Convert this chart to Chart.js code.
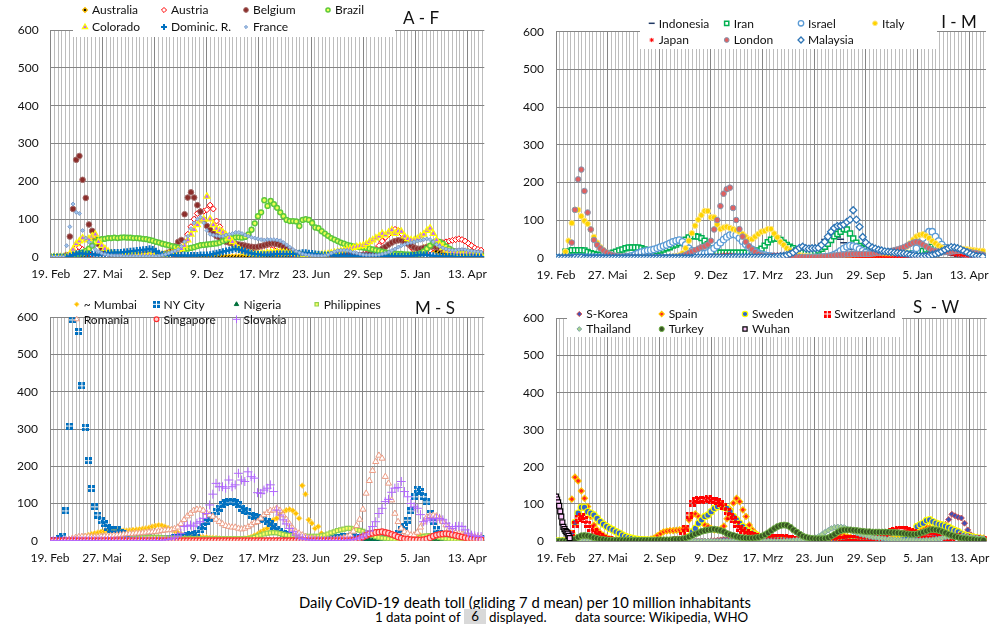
<!DOCTYPE html>
<html>
<head>
<meta charset="utf-8">
<script src="https://cdn.jsdelivr.net/npm/chart.js@4.4.1/dist/chart.umd.min.js"></script>
<style>
  body { margin: 0; background: #fff; width: 1001px; height: 640px; position: relative; overflow: hidden; font-family: Lato, sans-serif; }
  canvas { position: absolute; }
  #c1 { left: 0; top: 0; }
  #c2 { left: 500px; top: 0; }
  #c3 { left: 0; top: 290px; }
  #c4 { left: 500px; top: 290px; }
  .txt { position: absolute; color: #000; white-space: nowrap; line-height: 16px; }
  .l1 { font-size: 14.8px; }
  .l2 { font-size: 13.3px; }
  .box { background: #d9d9d9; text-align: center; width: 22px; height: 15px; line-height: 15px; }
</style>
</head>
<body>
<canvas id="c1" width="500" height="290"></canvas>
<canvas id="c2" width="501" height="290"></canvas>
<canvas id="c3" width="500" height="290"></canvas>
<canvas id="c4" width="501" height="290"></canvas>

<div class="txt l1" style="left:299px;top:594px">Daily CoViD-19 death toll (gliding 7 d mean) per 10 million inhabitants</div>
<div class="txt l2" style="left:375px;top:609px">1 data point of</div>
<div class="txt l2 box" style="left:464px;top:609px">6</div>
<div class="txt l2" style="left:489px;top:609px">displayed.</div>
<div class="txt l2" style="left:575px;top:609px">data source: Wikipedia, WHO</div>

<script>
// one value every 6 days, starting 19 Feb 2020 (day 0)
const STEP = 6;
const dateLabels = ['19. Feb', '27. Mai', '2. Sep', '9. Dez', '17. Mrz', '23. Jun', '29. Sep', '5. Jan', '13. Apr'];

// ---- A - F ----
const australia = [
0,0,0,0,0,0,0,1,1,1, 0,0,0,0,0,0,0,0,0,0, 0,0,0,0,0,0,0,1,2,3, 4,4,4,3,2,1,0,0,0,0,
0,0,0,0,0,0,0,0,0,0, 0,0,0,0,0,0,0,0,0,0, 0,0,0,0,0,0,0,0,0,0, 0,0,0,0,0,0,0,0,0,0,
0,0,0,0,0,0,0,0,0,0, 0,0,0,0,0,0,0,0,0,1, 1,1,1,1,1,1,1,1,1,1, 1,2,3,5,10,15,20,25,27,24,
20,15,12,10,9,9,10,11,12,13, 14,14,14,14,13,13];
const austria = [
0,0,0,0,0,1,5,15,24,26, 20,14,8,5,3,2,1,1,1,1, 1,1,1,1,1,1,1,1,1,1, 1,1,1,1,1,1,1,2,3,5,
10,20,40,60,80,100,115,120,121,125, 137,127,95,80,65,55,45,35,30,25, 20,18,18,20,22,25,28,30,32,32, 30,26,22,17,13,9,6,4,3,2,
1,1,1,1,1,1,1,1,1,1, 1,1,2,2,3,3,4,5,6,8, 10,14,20,30,42,52,60,70,73,70, 62,48,36,26,19,14,12,12,14,18,
24,30,34,38,40,42,44,46,48,46, 42,36,30,24,20,18];
const belgium = [
0,0,0,0,0,5,54,127,257,267, 204,156,86,69,48,34,24,16,10,7, 5,4,3,3,3,3,4,5,6,7, 8,7,6,6,6,7,9,12,18,28,
40,45,113,157,171,157,137,120,98,82, 72,62,55,50,45,40,38,36,35,33, 32,30,28,27,26,27,29,31,34,36, 36,34,31,27,22,18,14,11,8,6,
4,3,2,2,2,2,2,3,3,4, 4,5,5,5,5,5,5,5,6,6, 8,10,13,17,22,27,33,38,42,44, 44,40,35,30,25,22,22,24,26,28,
28,26,24,20,17,15,14,14,15,15, 14,13,12,11,10,9];
const brazil = [
0,0,0,0,0,0,1,2,5,8, 12,16,22,30,40,45,47,48,50,50, 51,50,51,52,51,51,50,50,49,48, 47,45,43,40,38,35,33,31,29,27,
25,23,22,22,24,26,29,31,32,33, 34,35,36,38,42,45,48,50,52,52, 51,53,60,72,89,108,118,150,135,148, 140,130,118,108,98,95,95,94,82,98,
100,98,90,78,76,68,62,56,50,46, 42,38,35,32,30,28,27,26,25,24, 22,20,18,16,14,12,11,10,9,8, 8,7,7,6,6,7,10,15,22,30,
38,42,40,35,28,22,17,13,10,8, 6,5,5,4,4,4];
const colorado = [
0,0,0,0,0,1,8,20,35,42, 50,45,48,55,60,40,30,22,15,10, 8,8,7,7,6,6,6,5,5,5, 5,5,5,5,6,6,7,8,10,14,
18,22,30,45,60,72,85,95,100,160, 100,85,75,70,65,58,50,40,30,22, 16,12,10,9,8,8,8,9,10,12, 12,13,13,12,11,10,9,8,7,6,
6,6,5,5,5,6,7,8,10,12, 14,16,18,20,22,25,27,29,30,35, 40,45,50,55,62,58,65,71,62,68, 67,55,48,45,45,48,55,60,70,76,
62,45,32,24,18,15,12,10,9,8, 10,12,8,6,5,5];
const dominican = [
0,0,0,0,0,0,2,5,8,10, 9,8,7,7,6,6,7,8,10,11, 12,12,12,13,14,15,16,17,18,19, 20,22,20,15,10,7,6,5,5,4,
4,4,4,4,4,4,4,5,5,5, 6,8,10,12,14,16,18,20,22,20, 18,15,12,10,8,7,6,6,6,6, 7,8,8,8,8,8,8,9,10,11,
11,10,9,8,7,6,5,5,5,4, 4,3,3,3,3,3,2,2,2,2, 2,2,2,2,2,2,2,2,2,2, 2,2,2,3,4,5,6,6,5,4,
3,2,2,1,1,1,1,0,0,0, 0,0,0,0,0,0];
const france = [
0,0,0,0,0,30,80,140,118,115, 70,50,40,30,20,14,10,7,5,4, 3,3,3,2,2,2,2,2,2,2, 2,2,2,2,3,5,7,10,13,16,
20,28,40,55,75,90,100,105,90,70, 60,58,56,55,55,58,60,62,65,65, 62,58,55,52,50,48,46,45,46,46, 46,45,43,38,32,26,20,15,11,8,
6,5,4,3,3,3,4,6,10,14, 17,18,18,17,15,12,10,8,6,5, 5,5,5,6,8,10,13,17,21,26, 30,33,36,38,40,42,44,46,48,46,
40,33,28,24,21,19,18,18,19,20, 19,17,16,15,14,13];

// ---- I - M ----
const indonesia = [
0,0,0,0,0,0,0,1,1,1, 1,1,1,1,1,1,1,1,1,1, 1,2,2,2,2,2,2,2,2,2, 2,2,2,2,2,2,3,3,3,3,
3,3,3,3,3,3,4,4,4,4, 4,5,6,7,8,9,10,11,11,10, 9,8,7,6,6,5,5,5,5,5, 5,5,5,5,5,5,6,6,7,8,
10,14,20,28,38,48,56,62,60,55, 49,40,30,22,15,10,7,5,3,2, 1,1,1,1,1,1,1,1,1,1, 1,1,1,1,1,1,1,1,2,4,
6,8,10,10,9,8,6,4,3,2, 1,1,1,1,1,1];
const iran = [
0,0,0,16,16,20,20,20,20,19, 15,12,10,8,7,8,10,11,13,16, 19,22,25,27,27,27,27,25,22,19, 17,16,17,19,22,25,28,32,35,39,
42,48,54,57,57,56,52,45,36,25, 16,14,13,13,13,13,13,13,13,13, 13,14,15,17,19,24,32,41,48,51, 51,47,40,34,29,25,20,16,14,13,
13,13,15,19,24,29,37,47,57,63, 69,76,75,64,51,40,31,26,23,21, 20,18,16,14,13,12,11,11,10,10, 10,10,10,11,13,15,18,22,26,29,
31,29,25,21,19,17,16,14,12,10, 9,8,7,6,5,5];
const israel = [
0,0,0,0,0,0,0,0,1,1, 1,1,1,1,1,1,1,1,1,1, 1,1,2,3,5,8,12,15,17,19, 20,22,25,28,31,34,38,42,45,47,
42,34,25,18,14,12,11,11,13,18, 25,32,40,48,55,60,62,60,52,44, 36,28,22,16,12,9,7,5,4,3, 2,2,1,1,1,1,1,0,0,0,
0,0,1,1,1,2,3,5,8,12, 18,24,29,32,31,28,23,18,14,10, 8,6,5,4,3,3,3,3,3,2, 2,2,4,10,25,40,52,62,69,69,
56,44,35,27,22,19,16,13,11,9, 7,6,5,4,3,3];
const italy = [
0,0,1,16,45,92,127,127,110,98, 90,75,55,40,28,20,14,10,7,5, 4,3,2,2,1,1,1,1,1,1, 1,1,1,1,1,2,2,3,4,6,
12,25,45,65,85,101,113,124,124,107, 107,88,76,80,82,79,76,73,69,63, 56,49,49,56,63,69,71,76,76,64, 54,42,34,25,19,13,10,7,5,4,
3,2,1,1,1,1,1,1,2,2, 3,3,4,4,4,4,4,3,3,3, 3,3,4,5,6,8,10,13,16,20, 24,30,38,48,56,60,62,58,52,44,
38,32,27,24,22,22,23,24,24,23, 22,21,20,19,18,18];
const japan = [
0,0,0,0,0,0,0,0,1,1, 1,1,1,1,1,1,0,0,0,0, 0,0,0,0,0,0,0,0,0,0, 0,0,0,0,0,0,0,0,0,0,
0,0,0,0,0,1,2,2,3,3, 4,5,6,7,7,7,6,5,4,3, 3,2,2,2,2,3,4,5,6,7, 8,8,8,7,6,5,4,3,2,2,
1,1,1,1,2,2,3,3,4,4, 4,4,3,3,2,2,1,1,0,0, 0,0,0,0,0,0,0,0,0,0, 0,0,0,0,0,1,3,6,10,14,
17,18,18,16,13,11,9,8,7,6, 5,4,4,3,3,3];
const london = [
0,0,0,0,1,40,127,208,234,177, 120,75,47,34,25,19,14,10,7,5, 4,3,3,2,2,2,2,1,1,1, 1,1,1,1,1,1,2,2,2,3,
5,8,12,16,20,24,28,30,35,45, 75,100,137,170,182,186,132,100,76,56, 42,30,22,15,10,7,5,4,3,3, 3,3,3,2,2,2,2,2,2,2,
2,2,2,2,3,3,4,5,6,7, 8,8,9,9,10,10,10,10,10,10, 11,12,13,14,15,16,18,20,22,25, 28,32,36,40,42,40,35,30,25,20,
18,16,15,15,15,16,17,18,19,18, 17,15,13,12,10,8];
const malaysia = [
0,0,0,0,0,0,1,1,1,0, 0,0,0,0,0,0,0,0,0,0, 0,0,0,0,0,0,0,0,0,0, 0,0,0,0,0,0,0,0,0,0,
0,0,0,0,1,1,1,1,1,1, 1,1,1,1,1,2,2,2,2,2, 2,2,1,1,1,1,1,1,1,2, 3,4,5,7,10,14,20,26,29,25,
24,25,25,26,34,42,56,69,79,84, 85,88,95,101,126,101,82,55,40,32, 27,24,21,19,17,16,15,14,13,12, 11,10,8,6,5,4,4,5,6,8,
10,13,17,21,25,28,27,25,22,18, 14,10,7,5,4,3];

// ---- M - S ----
const mumbai = [
0,0,0,0,0,0,1,2,4,6, 9,12,15,18,20,22,24,25,26,26, 27,28,28,27,27,28,29,30,31,32, 33,35,38,40,42,41,38,34,30,26,
22,18,15,13,12,11,10,10,9,9, 8,8,7,6,5,4,4,4,4,4, 5,6,8,10,14,18,24,29,33,45, 56,60,70,76,82,84,81,73,60,148,
125,56,47,33,38,20,12,9,7,6, 5,4,3,3,3,3,3,2,2,2, 2,2,2,2,2,2,2,2,2,2, 2,2,2,4,8,12,14,13,10,7,
5,4,3,2,1,1,1,1,1,1, 1,1,1,1,1,1];
const nyc = [
0,0,0,5,12,80,308,593,900,562, 416,304,215,140,91,69,54,45,35,29, 29,29,22,18,15,13,12,11,10,10, 9,8,7,6,6,6,6,6,7,8,
9,10,12,14,16,15,20,29,38,51, 60,69,78,87,96,102,104,104,102,96, 87,82,78,69,65,63,60,56,51,45, 38,30,24,18,16,15,12,10,8,6,
5,4,3,3,3,3,4,5,6,7, 8,9,10,10,10,10,9,9,8,8, 7,7,6,6,6,7,8,10,14,20, 29,38,55,80,118,138,132,118,104,73,
51,29,18,12,8,6,5,4,4,4, 4,4,5,5,5,5];
const nigeria = [
0,0,0,0,0,0,0,0,0,0, 0,0,0,0,0,0,1,1,1,1, 1,1,1,1,1,1,0,0,0,0, 0,0,0,0,0,0,0,0,0,0,
0,0,0,0,0,0,0,0,0,0, 0,0,0,1,1,1,1,1,0,0, 0,0,0,0,0,0,0,0,0,0, 0,0,0,0,0,0,0,0,0,0,
0,0,0,0,0,0,0,0,0,1, 1,1,1,0,0,0,0,0,0,0, 0,0,0,0,0,0,0,0,0,0, 0,0,0,0,0,0,0,0,0,0,
0,0,0,0,0,0,0,0,0,0, 0,0,0,0,0,0];
const philippines = [
0,0,0,0,0,0,1,2,2,2, 2,2,1,1,1,1,1,1,1,1, 2,2,2,3,3,4,5,6,7,8, 8,9,9,9,9,8,8,7,7,6,
6,5,5,5,5,5,5,5,5,5, 5,5,5,5,5,5,5,5,5,5, 5,5,6,7,9,12,15,18,20,21, 22,21,19,17,15,14,14,14,13,12,
12,12,12,12,12,13,15,18,21,24, 27,29,31,33,33,32,30,28,25,22, 18,14,11,9,7,6,5,4,3,2, 2,2,2,2,3,5,8,11,13,14,
13,11,9,7,5,4,3,3,2,2, 2,2,1,1,1,1];
const romania = [
0,0,0,0,0,1,3,6,8,10, 11,11,11,10,10,10,11,12,12,13, 14,15,16,17,18,19,19,20,20,21, 22,23,23,24,25,27,28,29,29,32,
36,45,56,66,73,81,84,84,81,75, 69,65,57,51,45,40,38,36,36,33, 31,33,37,42,48,51,60,69,75,81, 82,87,81,69,57,45,33,24,20,15,
11,8,6,5,4,3,3,3,3,4, 5,6,8,11,15,25,40,57,84,127, 161,188,212,229,221,172,154,109,73,51, 33,24,20,15,15,22,36,50,63,67,
68,66,60,51,42,33,26,22,19,17, 15,14,12,11,10,9];
const singapore = [
0,0,0,0,0,0,0,0,0,0, 0,0,0,0,0,0,0,0,0,0, 0,0,0,0,0,0,0,0,0,0, 0,0,0,0,0,0,0,0,0,0,
0,0,0,0,0,0,0,0,0,0, 0,0,0,0,0,0,0,0,0,0, 0,0,0,0,0,0,0,0,0,0, 0,0,0,0,0,0,0,0,0,0,
0,0,0,0,0,0,0,0,0,0, 0,0,0,0,0,1,3,6,10,14, 18,20,22,23,24,22,20,17,14,10, 7,5,4,3,2,2,2,3,5,8,
12,15,17,18,19,18,16,14,12,10, 8,6,5,4,3,3];
const slovakia = [
0,0,0,0,0,0,0,0,0,0, 0,0,0,0,0,0,0,0,0,0, 0,0,0,0,0,0,0,0,0,0, 0,0,0,0,0,0,2,3,5,8,
13,20,38,40,42,39,47,51,60,73, 96,125,154,145,145,141,163,145,150,181, 163,159,185,172,168,129,127,136,141,150, 132,82,69,56,45,33,24,15,10,6,
4,2,1,1,0,0,0,0,0,0, 0,0,1,1,2,3,5,8,12,18, 26,38,51,73,87,105,111,130,141,143, 159,132,118,100,91,87,70,51,55,60,
56,60,60,56,47,38,33,38,39,38, 29,20,15,13,11,11];

// ---- S - W ----
const skorea = [
0,0,0,0,0,1,1,1,1,1, 0,0,0,0,0,0,0,0,0,0, 0,0,0,0,0,0,0,0,0,0, 0,0,0,0,0,0,0,0,0,0,
0,0,0,0,0,0,0,0,0,1, 1,2,3,4,4,3,3,2,2,1, 1,1,1,1,1,1,1,1,1,1, 1,1,1,1,1,1,1,0,0,0,
0,0,0,0,0,0,0,0,1,1, 1,1,1,1,1,1,1,1,1,1, 1,1,2,3,4,5,6,8,10,12, 13,13,12,11,10,9,9,8,8,10,
14,25,35,45,58,72,68,64,62,48, 30,17,8,4,2,1];
const spain = [
0,0,0,1,20,113,172,162,135,115, 93,66,43,30,21,15,10,6,4,3, 2,2,1,1,1,1,1,1,2,3, 5,8,14,20,25,27,28,28,29,30,
32,34,57,70,73,66,52,43,39,34, 30,30,32,40,60,85,102,115,106,84, 66,43,30,21,15,12,10,9,8,8, 8,7,6,5,4,3,2,1,1,1,
1,1,1,1,2,3,5,8,12,14, 15,14,12,10,8,6,5,4,3,3, 2,2,2,3,3,4,5,7,9,12, 15,18,22,25,30,35,38,38,36,32,
28,25,22,20,18,18,17,16,15,14, 13,12,11,10,9,8];
const sweden = [
0,0,0,0,2,20,50,75,91,91, 79,75,70,61,52,45,39,34,30,25, 21,16,12,9,7,5,4,3,3,2, 2,2,2,1,1,1,1,1,1,2,
3,6,12,25,34,48,57,66,70,79, 88,93,97,91,88,79,66,57,48,39, 30,25,21,16,12,10,8,7,7,7, 6,6,5,4,3,2,1,1,1,1,
1,0,0,0,0,0,0,0,0,1, 1,1,1,1,1,1,1,1,1,1, 1,1,1,1,1,1,1,2,2,3, 5,8,14,25,39,44,48,55,57,52,
48,45,43,40,37,32,28,25,19,16, 14,11,9,7,5,4];
const switzerland = [
0,0,0,0,2,20,45,62,66,57, 45,34,25,18,12,8,5,3,2,1, 1,1,1,0,0,0,0,0,0,0, 0,0,1,1,1,1,2,2,3,5,
15,35,70,102,108,112,110,112,115,110, 108,106,100,93,80,65,57,45,35,28, 22,18,14,12,10,8,8,8,8,9, 10,10,10,8,6,5,4,3,2,2,
1,1,1,1,1,1,1,1,2,3, 4,5,6,7,7,6,5,5,5,5, 6,8,10,13,18,22,26,29,31,32, 31,29,26,23,20,17,16,16,16,15,
14,12,11,10,10,10,11,11,10,10, 9,8,7,6,5,5];
const thailand = [
0,0,0,0,0,0,0,0,0,0, 0,0,0,0,0,0,0,0,0,0, 0,0,0,0,0,0,0,0,0,0, 0,0,0,0,0,0,0,0,0,0,
0,0,0,0,0,0,0,0,0,0, 0,0,0,0,0,0,0,0,0,0, 0,0,0,0,0,0,0,0,0,0, 0,0,1,1,1,2,3,3,4,4,
4,6,9,13,18,24,29,34,37,38, 38,37,33,29,25,21,18,16,14,12, 10,9,8,7,6,5,4,4,3,3, 2,2,2,2,2,2,2,3,3,4,
5,6,8,10,11,12,13,13,13,12, 12,11,10,9,8,7];
const turkey = [
0,0,0,0,0,1,5,10,14,15, 14,12,9,7,5,4,3,2,2,2, 2,2,2,2,2,2,2,2,2,2, 2,2,3,3,3,3,3,4,4,5,
6,8,11,15,19,22,26,28,30,31, 32,30,28,25,20,17,15,12,10,9, 8,8,8,9,10,13,17,22,28,34, 39,42,43,42,37,30,24,18,13,10,
8,7,6,6,6,7,9,13,18,24, 28,30,30,30,29,28,27,26,25,25, 24,24,24,24,24,24,23,23,22,21, 20,19,18,18,19,21,24,27,30,31,
30,28,25,22,18,15,12,10,8,7, 6,5,4,3,3,2];
// Wuhan is shown more densely (every 2 days) at the very start
const WUHAN_STEP = 2;
const wuhan = [120,112,104,95,80,66,50,38,32,27,24,20,14,8];

// ---------------------------------------------------------------
function pts(vals, step = STEP) {
  return vals.map((v, i) => ({ x: i * step, y: v }));
}

// small 2x2 block marker (NY City / Switzerland style)
function blockMarker(color) {
  const c = document.createElement('canvas');
  c.width = 7; c.height = 7;
  const g = c.getContext('2d');
  g.fillStyle = color;
  g.fillRect(0, 0, 3, 3); g.fillRect(4, 0, 3, 3);
  g.fillRect(0, 4, 3, 3); g.fillRect(4, 4, 3, 3);
  return c;
}

const weekTicks = [];
for (let d = 0; d <= 812; d += 7) weekTicks.push(d);

const gridLegend = {
  id: 'gridLegend',
  beforeDatasetsDraw(chart, args, o) {
    if (!o.box) return;
    const ctx = chart.ctx;
    ctx.save();
    ctx.fillStyle = '#fff';
    ctx.fillRect(o.box[0], o.box[1], o.box[2] - o.box[0], o.box[3] - o.box[1]);
    ctx.restore();
  },
  afterDatasetsDraw(chart, args, o) {
    const ctx = chart.ctx;
    ctx.save();
    ctx.textBaseline = 'middle';
    chart.data.datasets.forEach((ds, k) => {
      const x = o.xs[k % 4], y = o.ys[Math.floor(k / 4)];
      ctx.save();
      ctx.fillStyle = ds.pointBackgroundColor;
      ctx.strokeStyle = ds.pointBorderColor;
      ctx.lineWidth = ds.pointBorderWidth;
      if (Chart.helpers && Chart.helpers.drawPoint) {
        Chart.helpers.drawPoint(ctx, { pointStyle: ds.pointStyle, radius: ds.pointRadius * 0.85, borderWidth: ds.pointBorderWidth, rotation: 0 }, x, y);
      }
      ctx.restore();
      ctx.fillStyle = '#111';
      ctx.font = '12px Lato';
      ctx.fillText(ds.label, x + 7, y + 0.5);
    });
    ctx.font = '17px Lato';
    ctx.fillStyle = '#111';
    ctx.textAlign = 'center';
    ctx.fillText(o.title, o.tx, o.ty);
    ctx.restore();
  }
};

function series(label, data, style, r, bg, bc, bw) {
  return { label, data, pointStyle: style, pointRadius: r, pointHoverRadius: r,
    pointBackgroundColor: bg, pointBorderColor: bc, pointBorderWidth: bw,
    backgroundColor: bg, borderColor: bc, showLine: false };
}

function panel(id, geo, sets, leg) {
  const cv = document.getElementById(id);
  const W = cv.width, H = cv.height;
  sets.forEach((s, k) => { s.order = -k; });
  new Chart(cv, {
    type: 'scatter',
    data: { datasets: sets },
    options: {
      responsive: false,
      animation: false,
      events: [],
      layout: { padding: { left: geo.left - 40, right: W - geo.right, top: geo.top, bottom: H - geo.bottom - 30 } },
      plugins: { legend: { display: false }, tooltip: { enabled: false }, gridLegend: leg },
      scales: {
        x: {
          type: 'linear', min: 0, max: 816,
          afterBuildTicks: s => { s.ticks = weekTicks.map(v => ({ value: v })); },
          afterFit: s => { s.height = 30; },
          grid: { color: c => (c.tick && c.tick.value % 98 === 0) ? '#858585' : '#bdbdbd', lineWidth: 1, drawTicks: false },
          border: { display: false },
          ticks: { autoSkip: false, maxRotation: 0, padding: 10, color: '#111', font: { family: 'Lato', size: 12 },
            callback: v => (v % 98 === 0) ? dateLabels[v / 98] : '' }
        },
        y: {
          min: 0, max: 600,
          afterFit: s => { s.width = 40; },
          grid: { color: '#858585', lineWidth: 1, drawTicks: false },
          border: { display: true, color: '#858585' },
          ticks: { stepSize: 100, padding: 12, color: '#111', font: { family: 'Lato', size: 12 } }
        }
      }
    },
    plugins: [gridLegend]
  });
}

panel('c1', { left: 50.7, right: 484.3, top: 30, bottom: 257 }, [
  series('Australia', pts(australia), 'rectRot', 2.8, '#000000', '#ffc000', 1.2),
  series('Austria', pts(austria), 'rectRot', 3, '#ffffff', '#ff0000', 1),
  series('Belgium', pts(belgium), 'circle', 2.8, '#8b2d2a', '#a36a68', 1),
  series('Brazil', pts(brazil), 'circle', 2.4, '#eeff55', '#5cc83c', 1.5),
  series('Colorado', pts(colorado), 'triangle', 3.6, '#c060ff', '#ffff00', 1.2),
  series('Dominic. R.', pts(dominican), 'cross', 3.5, '#0070c0', '#0070c0', 2),
  series('France', pts(france), 'rectRot', 2, '#9dc3e6', '#6f8fc8', 0.8)
], { xs: [85, 164, 246, 328], ys: [10, 27], box: [73, 0, 395, 37], title: 'A - F', tx: 421, ty: 19 });

panel('c2', { left: 56, right: 486, top: 31.7, bottom: 257.7 }, [
  series('Indonesia', pts(indonesia), 'line', 3.5, '#1f3864', '#1f3864', 1.5),
  series('Iran', pts(iran), 'rect', 3.5, '#ffffff', '#00b050', 1.5),
  series('Israel', pts(israel), 'circle', 3.2, '#ffffff', '#5b9bd5', 1.3),
  series('Italy', pts(italy), 'circle', 2.8, '#ffd400', '#ffe680', 1),
  series('Japan', pts(japan), 'star', 2.5, '#ff0000', '#ff0000', 1),
  series('London', pts(london), 'circle', 2.8, '#e06060', '#8497b0', 1),
  series('Malaysia', pts(malaysia), 'rectRot', 3.5, '#ffffff', '#2e75b6', 1.3)
], { xs: [151.7, 226.7, 301, 375], ys: [23.3, 40], box: [140, 0, 437, 49], title: 'I - M', tx: 459, ty: 22.5 });

panel('c3', { left: 50, right: 484.3, top: 27.3, bottom: 250.7 }, [
  series('~ Mumbai', pts(mumbai), 'rectRot', 2.8, '#ffc000', '#ffd966', 1),
  series('NY City', pts(nyc), blockMarker('#0070c0'), 3, '#0070c0', '#0070c0', 1),
  series('Nigeria', pts(nigeria), 'triangle', 3, '#00703c', '#00703c', 1),
  series('Philippines', pts(philippines), 'rect', 2.8, '#ffff66', '#92d050', 1.2),
  series('Romania', pts(romania), 'triangle', 3.5, '#ffffff', '#ec9c84', 1),
  series('Singapore', pts(singapore), 'circle', 2.8, '#ffd0d0', '#ff3030', 1.2),
  series('Slovakia', pts(slovakia), 'cross', 4.5, '#b266ff', '#b266ff', 1)
], { xs: [76.7, 156.5, 236.5, 316.7], ys: [14.3, 29.3], box: null, title: 'M - S', tx: 435, ty: 19 });

panel('c4', { left: 56, right: 486.7, top: 28.5, bottom: 251 }, [
  series('S-Korea', pts(skorea), 'rectRot', 3, '#3f51b5', '#d9534f', 1),
  series('Spain', pts(spain), 'rectRot', 3, '#ff2020', '#ffc000', 1.2),
  series('Sweden', pts(sweden), 'circle', 3.2, '#3366cc', '#ffff00', 1.2),
  series('Switzerland', pts(switzerland), blockMarker('#ff0000'), 3, '#ff0000', '#ff0000', 1),
  series('Thailand', pts(thailand), 'rectRot', 2.8, '#a9d18e', '#7fa7a7', 1),
  series('Turkey', pts(turkey), 'circle', 3, '#375623', '#70ad47', 1),
  series('Wuhan', pts(wuhan, WUHAN_STEP), 'rect', 3.5, '#ffccff', '#000000', 1.2)
], { xs: [79.3, 161.7, 245, 327.3], ys: [24, 39], box: [67, 0, 402, 47], title: 'S  - W', tx: 436, ty: 17.5 });
</script>
</body>
</html>
